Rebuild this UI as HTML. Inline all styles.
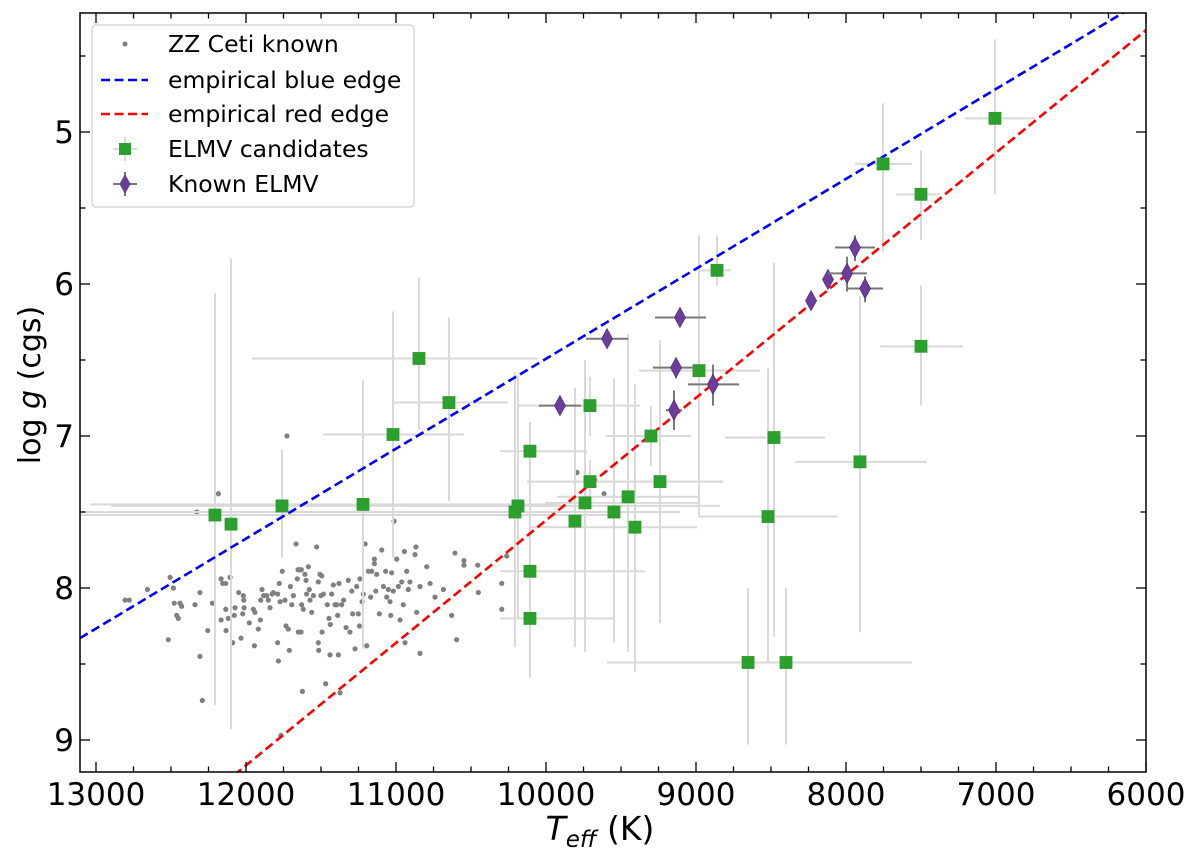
<!DOCTYPE html>
<html><head><meta charset="utf-8"><style>
html,body{margin:0;padding:0;background:#fff;overflow:hidden;width:1200px;height:857px;}
svg{display:block;font-family:"DejaVu Sans","Liberation Sans",sans-serif;}
</style></head><body>
<svg id="chart" width="1200" height="857" viewBox="0 0 1200 857" xmlns="http://www.w3.org/2000/svg">
<defs><clipPath id="plotclip"><rect x="80" y="13" width="1066" height="759"/></clipPath></defs>
<rect x="0" y="0" width="1200" height="857" fill="#fff"/>
<g id="plot" clip-path="url(#plotclip)"></g>
<g id="axes"></g>
<text x="600" y="840" font-size="33" text-anchor="middle"><tspan font-style="italic">T</tspan><tspan font-style="italic" font-size="23" dy="7">eff</tspan><tspan dy="-7"> (K)</tspan></text>
<text transform="translate(40,385) rotate(-90)" font-size="30" text-anchor="middle">log <tspan font-style="italic">g</tspan> (cgs)</text>
<g id="legend"></g>
</svg>
<script>
// ---- data ----
const xTicks = [13000,12000,11000,10000,9000,8000,7000,6000];
const yTicks = [5,6,7,8,9];
const blueEdgeT = [13107, 6160];
const blueEdgeG = [8.33, 4.22];
const redEdgeT = [12053, 6000];
const redEdgeG = [9.21, 4.33];

const zzT = [12806,12778,12657,12506,12484,12478,12440,12429,12462,12451,12518,12340,12307,12329,12307,12291,12255,12224,12184,12166,12155,12135,12106,12135,12166,12133,12118,12089,12073,12078,12049,12033,12018,12015,12013,12022,11978,11951,11944,11940,11918,11904,11902,11893,11882,11862,11851,11840,11826,11818,11789,11778,11789,11784,11773,11758,11740,11733,11718,11711,11704,11695,11684,11666,11658,11653,11640,11631,11651,11633,11624,11629,11618,11607,11600,11596,11584,11578,11573,11562,11551,11529,11518,11507,11495,11500,11493,11484,11469,11518,11515,11458,11447,11438,11440,11429,11418,11406,11395,11389,11380,11384,11373,11362,11349,11333,11318,11307,11295,11289,11273,11262,11251,11244,11240,11226,11218,11206,11195,11184,11169,11162,11144,11144,11135,11129,11111,11095,11084,11069,11062,11051,11040,11035,11029,11018,10995,10984,10973,10962,10951,10944,10940,10929,10918,10907,10873,10867,10862,10840,10840,10795,10773,10740,10684,10629,10607,10596,10547,10547,10455,10451,10295,10295,10262,11727,11013,9793,9613,11767];
const zzG = [8.08,8.08,8.01,7.93,8.00,8.10,8.10,8.12,8.18,8.20,8.34,8.11,8.03,7.50,8.45,8.74,8.28,8.10,7.38,7.94,7.97,7.97,7.93,8.14,8.21,8.28,8.20,8.36,8.13,8.18,8.03,8.33,8.05,8.08,8.13,8.17,8.23,8.14,8.38,8.16,8.27,8.21,8.08,8.01,8.05,8.05,8.08,8.13,8.04,8.03,8.04,7.97,8.36,8.48,8.09,7.89,8.08,8.25,8.27,8.41,7.99,8.11,8.05,7.71,7.94,7.88,7.88,7.88,8.29,8.29,8.68,8.11,8.14,7.91,7.95,8.04,7.86,8.01,8.08,8.16,8.05,7.73,7.96,7.91,7.92,8.05,8.29,8.04,8.63,8.36,8.41,8.11,8.20,8.24,8.44,8.04,7.98,8.11,8.11,8.18,7.97,8.44,8.69,8.11,8.08,8.26,7.95,8.29,8.02,8.17,8.40,7.99,8.17,8.25,7.94,8.09,8.04,7.71,8.38,7.89,8.06,7.89,7.81,7.84,8.02,7.91,8.17,7.75,7.99,7.89,8.06,8.01,8.09,8.18,7.90,8.02,7.81,7.99,8.21,7.96,8.11,7.76,8.36,7.89,8.01,7.96,7.78,7.73,8.16,7.99,8.43,7.86,7.97,8.06,8.01,8.18,7.77,8.34,7.82,7.85,7.85,8.03,7.97,8.14,7.79,7.00,7.56,7.24,7.38,8.97];

// ELMV candidates: value, errorbar ends
const candT     = [12207,12100,11760,11220,11020,10847,10647,10207,10187,10107,10107,10107,9807,9740,9707,9707,9547,9453,9407,9300,9240,8980,8860,8653,8400,8520,8480,7907,7500,7500,7753,7007];
const candG     = [7.52,7.58,7.46,7.45,6.99,6.49,6.78,7.50,7.46,7.10,7.89,8.20,7.56,7.44,7.30,6.80,7.50,7.40,7.60,7.00,7.30,6.57,5.91,8.49,8.49,7.53,7.01,7.17,6.41,5.41,5.21,4.91];
const candTHot  = [13107,12100,12900,13040,11487,11960,11027,13107,10907,10307,10307,10307,9807,10007,10127,10187,9907,9927,10107,9600,10127,9380,8973,9593,9593,8987,8807,8340,7773,7667,7940,7207];
const candTCool = [9507,12100,8973,9907,10547,10053,10253,9153,8840,9727,9340,9547,9807,8973,8820,9373,9107,8973,8993,9033,8820,8573,8767,7560,7560,8053,8140,7460,7220,7373,7560,6740];
const candGTop  = [6.06,5.83,7.09,6.63,6.18,5.96,6.22,6.58,6.60,6.91,6.91,6.91,6.68,6.50,7.16,6.61,6.62,6.33,6.66,6.80,6.37,5.68,5.68,8.00,8.00,6.55,5.86,6.08,6.01,5.12,4.81,4.39];
const candGBot  = [8.77,8.93,7.80,8.40,7.80,6.96,7.43,8.39,8.20,7.30,8.59,8.59,8.39,8.42,7.42,7.00,8.36,8.42,8.55,7.20,8.23,7.53,6.01,9.03,9.03,8.49,8.32,8.29,6.80,5.71,5.79,5.41];

// Known ELMV
const knownT     = [9907,9593,9107,9133,9147,8887,8233,8120,7993,7940,7873];
const knownG     = [6.80,6.36,6.22,6.55,6.83,6.66,6.11,5.97,5.93,5.76,6.03];
const knownTHot  = [10047,9733,9273,9287,9200,9053,8233,8120,8120,8073,7993];
const knownTCool = [9767,9453,8933,9007,9093,8713,8233,8120,7860,7807,7753];
const knownGTop  = [6.80,6.30,6.17,6.49,6.70,6.53,6.07,5.93,5.82,5.68,5.95];
const knownGBot  = [6.80,6.42,6.28,6.62,6.96,6.80,6.15,6.02,6.05,5.85,6.12];

// ---- axes ----
const X0=80, X1=1146, Y0=13, Y1=772;
function xs(t){ return 96 + (13000 - t) * 0.15; }
function ys(g){ return 132 + (g - 5) * 152; }
const NS='http://www.w3.org/2000/svg';
function mk(tag, attrs, parent){ const e=document.createElementNS(NS,tag); for(const k in attrs) e.setAttribute(k,attrs[k]); parent.appendChild(e); return e; }
const plot=document.getElementById('plot');
const axes=document.getElementById('axes');

for(let i=0;i<zzT.length;i++){
  const c=mk('circle',{cx:xs(zzT[i]),cy:ys(zzG[i]),r:2.6,fill:'#808080'},plot);
  
  
}
function edge(T,G,color,name){
  const l=mk('line',{stroke:color,'stroke-width':2.6,'stroke-dasharray':'9,4.5'},plot);
  
  
  const dx=xs(T[1])-xs(T[0]), dy=ys(G[1])-ys(G[0]);
  l.setAttribute('x1',xs(T[0])-dx*0.2); l.setAttribute('y1',ys(G[0])-dy*0.2);
  l.setAttribute('x2',xs(T[1])+dx*0.2); l.setAttribute('y2',ys(G[1])+dy*0.2);
}
for(let i=0;i<candT.length;i++){
  const g=mk('g',{},plot);
  
  
  mk('line',{x1:xs(candTHot[i]),x2:xs(candTCool[i]),y1:ys(candG[i]),y2:ys(candG[i]),stroke:'#d9d9d9','stroke-width':2},g);
  mk('line',{x1:xs(candT[i]),x2:xs(candT[i]),y1:ys(candGTop[i]),y2:ys(candGBot[i]),stroke:'#d9d9d9','stroke-width':2},g);
}
edge(blueEdgeT,blueEdgeG,'#0000ff','blue-edge-line');
edge(redEdgeT,redEdgeG,'#ff0000','red-edge-line');
for(let i=0;i<candT.length;i++){
  const r=mk('rect',{x:xs(candT[i])-6,y:ys(candG[i])-6,width:12,height:12,fill:'#2ca02c',stroke:'#2a9a2a','stroke-width':0.8},plot);
  
  
}
for(let i=0;i<knownT.length;i++){
  const g=mk('g',{},plot);
  
  
  mk('line',{x1:xs(knownTHot[i]),x2:xs(knownTCool[i]),y1:ys(knownG[i]),y2:ys(knownG[i]),stroke:'#777','stroke-width':2},g);
  mk('line',{x1:xs(knownT[i]),x2:xs(knownT[i]),y1:ys(knownGTop[i]),y2:ys(knownGBot[i]),stroke:'#777','stroke-width':2},g);
  const x=xs(knownT[i]), y=ys(knownG[i]);
  mk('polygon',{points:`${x},${y-10} ${x+5.5},${y} ${x},${y+10} ${x-5.5},${y}`,fill:'#6a3d9a',stroke:'#5a2d8a','stroke-width':0.8},g);
}

const fr=mk('rect',{x:X0,y:Y0,width:X1-X0,height:Y1-Y0,fill:'none',stroke:'#000','stroke-width':1.5},axes);


for(let t=13000;t>=6000;t-=250){
  const x=xs(t), major=(t%1000===0), L=major?10:5.5;
  mk('line',{x1:x,x2:x,y1:Y1,y2:Y1-L,stroke:'#000','stroke-width':1.3},axes);
  mk('line',{x1:x,x2:x,y1:Y0,y2:Y0+L,stroke:'#000','stroke-width':1.3},axes);
}
xTicks.forEach(t=>{
  const tx=mk('text',{x:xs(t),y:805,'font-size':31,'text-anchor':'middle'},axes);
  tx.textContent=t;
  
  
});
for(let gv=4.5;gv<=9.0001;gv+=0.5){
  const y=ys(gv), major=Math.abs(gv-Math.round(gv))<1e-6, L=major?10:5.5;
  if(y<Y0||y>Y1) continue;
  mk('line',{x1:X0,x2:X0+L,y1:y,y2:y,stroke:'#000','stroke-width':1.3},axes);
  mk('line',{x1:X1,x2:X1-L,y1:y,y2:y,stroke:'#000','stroke-width':1.3},axes);
}
yTicks.forEach(gv=>{
  const tx=mk('text',{x:74,y:ys(gv)+11,'font-size':31,'text-anchor':'end'},axes);
  tx.textContent=gv;
  
  
});

const lg=document.getElementById('legend');
mk('rect',{x:92,y:25,width:322,height:182,rx:4,fill:'#fff',stroke:'#d0d0d0','stroke-width':1.2},lg);
const rows=[44,80,114,149,184];
const labels=['ZZ Ceti known','empirical blue edge','empirical red edge','ELMV candidates','Known ELMV'];
mk('circle',{cx:125,cy:rows[0],r:2.5,fill:'#808080'},lg);
mk('line',{x1:101,x2:148,y1:rows[1],y2:rows[1],stroke:'#0000ff','stroke-width':2.6,'stroke-dasharray':'9,4.5'},lg);
mk('line',{x1:101,x2:148,y1:rows[2],y2:rows[2],stroke:'#ff0000','stroke-width':2.6,'stroke-dasharray':'9,4.5'},lg);
mk('line',{x1:113,x2:137,y1:rows[3],y2:rows[3],stroke:'#d9d9d9','stroke-width':2},lg);
mk('line',{x1:125,x2:125,y1:rows[3]-12,y2:rows[3]+12,stroke:'#d9d9d9','stroke-width':2},lg);
mk('rect',{x:119,y:rows[3]-6,width:12,height:12,fill:'#2ca02c'},lg);
mk('line',{x1:113,x2:137,y1:rows[4],y2:rows[4],stroke:'#777','stroke-width':2},lg);
mk('line',{x1:125,x2:125,y1:rows[4]-12,y2:rows[4]+12,stroke:'#777','stroke-width':2},lg);
mk('polygon',{points:`125,${rows[4]-10} 130.5,${rows[4]} 125,${rows[4]+10} 119.5,${rows[4]}`,fill:'#6a3d9a'},lg);
labels.forEach((s,i)=>{
  const tx=mk('text',{x:168,y:rows[i]+8,'font-size':23.5},lg);
  tx.textContent=s;
  
  
});
</script>
</body></html>
